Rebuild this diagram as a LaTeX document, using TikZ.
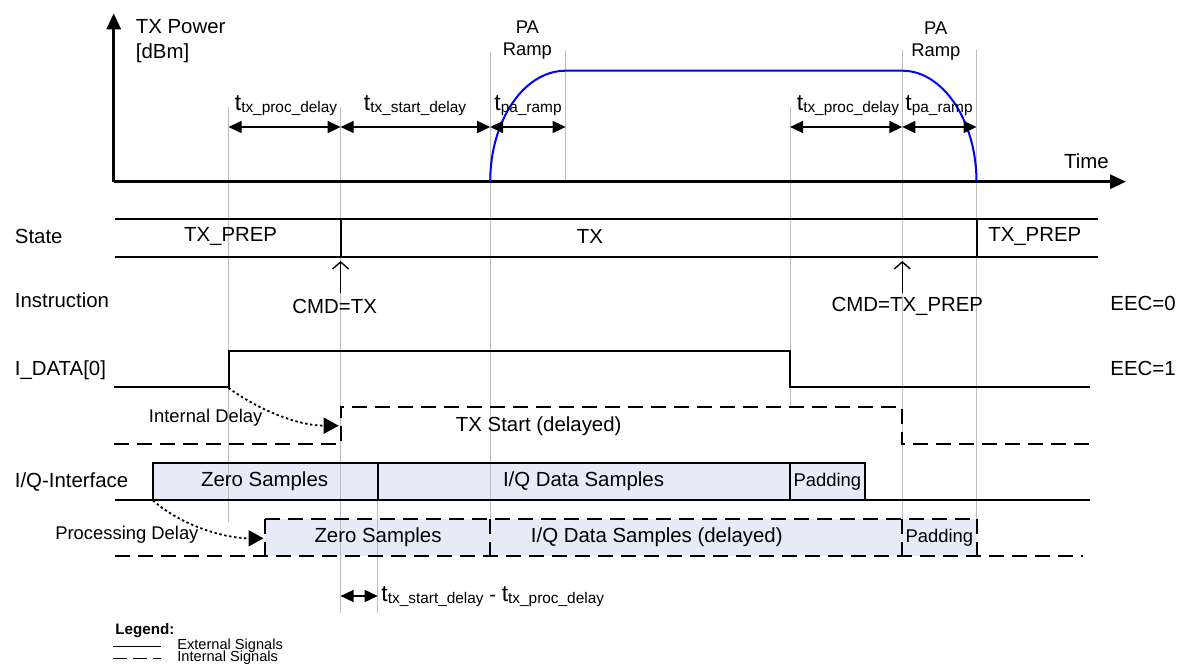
\documentclass[tikz,border=0pt]{standalone}
\usepackage{fontspec}
\setmainfont{Liberation Sans}
\usetikzlibrary{arrows.meta,positioning}
\definecolor{sample}{RGB}{230,236,247}
\definecolor{guidegray}{RGB}{190,190,190}
\newcommand\tsym[1]{{\fontsize{11.5}{12}\selectfont t}\raisebox{-1.2pt}{\fontsize{7.7}{9}\selectfont #1}}
\tikzset{
	timing diagram/.style={x=0.5pt, y=-0.5pt,
		every node/.style={inner sep=0pt, font=\fontsize{10.2}{12.5}\selectfont}},
	smalltext/.style={font=\fontsize{9.2}{10.8}\selectfont},
	legendtext/.style={anchor=west, font=\fontsize{7.3}{8}\selectfont},
	axis/.style={line width=1.5pt, -{Triangle[length=8pt,width=7pt]}},
	ext/.style={line width=1pt},
	int/.style={line width=1pt, dash pattern=on 7.5pt off 4pt},
	guide/.style={guidegray, line width=0.6pt},
	span/.style={line width=0.8pt, {Triangle[length=6.5pt,width=6pt]}-{Triangle[length=6.5pt,width=6pt]}},
	cmd/.style={line width=0.7pt, -{Straight Barb[length=3.5pt,width=8pt]}},
	delay/.style={line width=0.9pt, dash pattern=on 1.2pt off 1.3pt, -{Triangle[length=7.5pt,width=8pt]}},
	ramp/.style={blue, line width=1pt},
	signame/.style={anchor=west}
}
\begin{document}
\begin{tikzpicture}[timing diagram]
	\useasboundingbox (0,0) rectangle (1178,664);
	% sample fills
	\fill[sample] (153,463.3) rectangle (864.5,500);
	\fill[sample] (265.2,519.3) rectangle (976.5,556);
	% time markers
	\foreach \x/\a/\b in {228.5/106.7/521.7, 340.6/106.7/612.7, 377.7/500/612.7, 490.2/51.7/519.3,
		565.6/50/181.7, 790.1/106.7/406.7, 902.3/50/519.3, 976.5/50/519.3}
		\draw[guide] (\x,\a) -- (\x,\b);
	% power axes
	\coordinate (origin) at (113.7,181.7);
	\coordinate (ytop) at (113.7,13.3);
	\coordinate (xend) at (1126,181.7);
	\draw[axis] (origin) -- (ytop);
	\draw[axis] (origin) -- (xend);
	\draw[ramp] (490.2,181.7) .. controls (490.2,120.4) and (524,70.7) .. (565.6,70.7)
		-- (902.3,70.7) .. controls (942.7,70.7) and (976.5,120.4) .. (976.5,181.7);
	\foreach \a/\b in {228.5/340.6, 340.6/490.2, 490.2/565.6, 790.1/902.3, 902.3/976.5}
		\draw[span] (\a,127) -- (\b,127);
	\node[anchor=west, align=left] (power) at (135.5,41) {TX Power\\{[dBm]}};
	\node[smalltext, align=center] (rampup) at (527.4,40) {PA\\Ramp};
	\node[smalltext, align=center] (rampdown) at (935.8,41) {PA\\Ramp};
	\node (time) at (1086.5,161.7) {Time};
	\node[anchor=base] (procA) at (286,110) {\tsym{tx\_proc\_delay}};
	\node[anchor=base] (start) at (415,110) {\tsym{tx\_start\_delay}};
	\node[anchor=base] (pampA) at (528,110) {\tsym{pa\_ramp}};
	\node[anchor=base] (procB) at (848,110) {\tsym{tx\_proc\_delay}};
	\node[anchor=base] (pampB) at (939,110) {\tsym{pa\_ramp}};
	% state
	\draw[ext] (114.8,219) -- (1097.5,219) (114.8,256.7) -- (1097.5,256.7)
		(340.6,219) -- (340.6,256.7) (976.5,219) -- (976.5,256.7);
	\node[signame] (state) at (14.5,236.7) {State};
	\node (prepA) at (230.6,236.7) {TX\_PREP};
	\node (tx) at (590,236.7) {TX};
	\node (prepB) at (1034.8,236.7) {TX\_PREP};
	% instruction
	\node[signame] (instr) at (14.5,300.7) {Instruction};
	\node (cmdtx) at (334.7,306) {CMD=TX};
	\node (cmdprep) at (907.4,306) {CMD=TX\_PREP};
	\draw[cmd] (340.6,293) -- (340.6,261);
	\draw[cmd] (902.3,293) -- (902.3,261);
	\node[anchor=east] (eeczero) at (1176,303.3) {EEC=0};
	\node[anchor=east] (eecone) at (1176,368.3) {EEC=1};
	% I_DATA[0] and delayed TX start
	\node[signame] (idata) at (14.5,370) {I\_DATA[0]};
	\draw[ext] (113.7,387.3) -- (228.5,387.3) -- (228.5,350.7) -- (790.1,350.7) -- (790.1,387.3) -- (1090,387.3);
	\draw[int] (113.7,444) -- (340.6,444) -- (340.6,406.7) -- (902.3,406.7) -- (902.3,444) -- (1090,444);
	\node (txstart) at (538.7,426.7) {TX Start (delayed)};
	\node[smalltext] (intdelay) at (205.7,417.3) {Internal Delay};
	\draw[delay] (228.5,388) .. controls (262,412) and (300,425.7) .. (338.7,425.7);
	% I/Q interface
	\node[signame] (iq) at (14.5,481.7) {I/Q-Interface};
	\draw[ext] (114.8,500) -- (1090,500);
	\draw[ext] (153,500) -- (153,463.3) -- (864.5,463.3) -- (864.5,500)
		(377.7,463.3) -- (377.7,500) (790.1,463.3) -- (790.1,500);
	\node (zeroA) at (264.6,481.7) {Zero Samples};
	\node (dataA) at (583.5,481.7) {I/Q Data Samples};
	\node[smalltext] (padA) at (827.3,481.7) {Padding};
	\draw[int] (114.8,556) -- (1082.7,556) (265.2,519.3) -- (976.5,519.3);
	\foreach \x in {265.2, 490.2, 902.3, 976.5}
		\draw[int] (\x,519.3) -- (\x,556);
	\node (zeroB) at (378,537.7) {Zero Samples};
	\node (dataB) at (656.8,537.7) {I/Q Data Samples (delayed)};
	\node[smalltext] (padB) at (939.4,537.7) {Padding};
	\node[smalltext] (procdelay) at (126.9,535) {Processing Delay};
	\draw[delay] (153,500.5) .. controls (182,526) and (225,538.3) .. (263.5,538.3);
	% difference of delays
	\draw[span] (340.6,596) -- (377.7,596);
	\node[anchor=base west] (diff) at (381,601) {\tsym{tx\_start\_delay} - \tsym{tx\_proc\_delay}};
	% legend
	\node[anchor=west, font=\bfseries\fontsize{7.6}{9}\selectfont] (legend) at (115,631) {Legend:};
	\coordinate (extA) at (113,646.5);
	\coordinate (extB) at (161,646.5);
	\coordinate (intA) at (113,658.5);
	\coordinate (intB) at (161,658.5);
	\draw[line width=0.8pt] (extA) -- (extB);
	\draw[line width=0.8pt, dash pattern=on 7pt off 3pt] (intA) -- (intB);
	\node[legendtext] (extlbl) at (177,646) {External Signals};
	\node[legendtext] (intlbl) at (177,657.5) {Internal Signals};
\end{tikzpicture}
\end{document}
